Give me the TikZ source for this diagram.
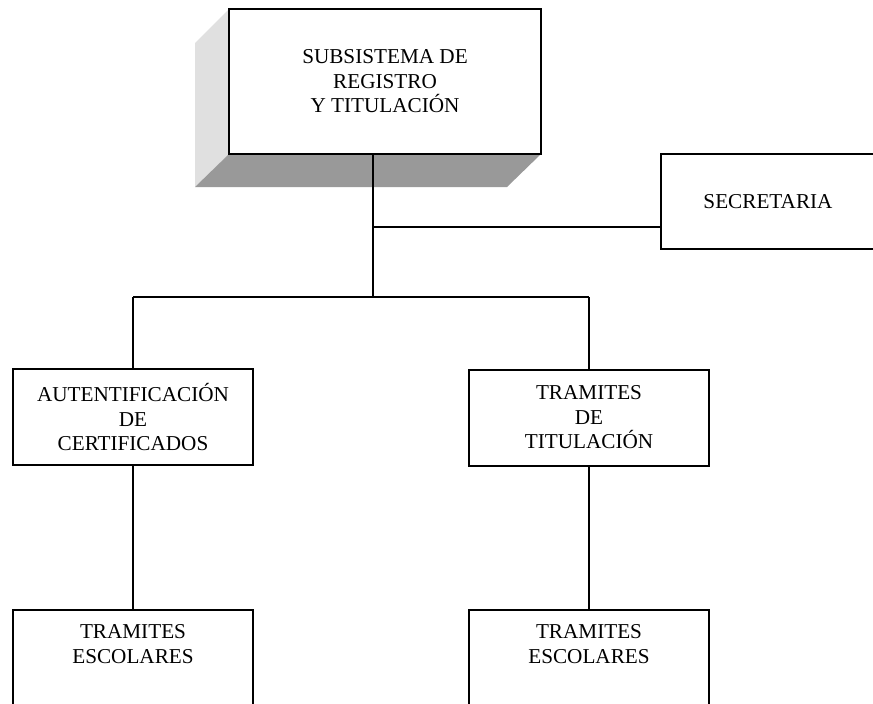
\documentclass[tikz,border=0pt]{standalone}
\usepackage{fontspec}
\setmainfont{Liberation Serif}
\begin{document}
\begin{tikzpicture}[x=1pt, y=-1pt,
  unitbox/.style={draw=black, line width=2pt, fill=white, inner sep=0pt,
    minimum width=240pt, align=center,
    font=\fontsize{21.2}{24.5}\selectfont},
  label/.style={inner sep=0pt, align=center, font=\fontsize{21.2}{24.5}\selectfont},
  link/.style={draw=black, line width=1.4pt},
  sideface/.style={fill=black!12, draw=none},
  floorface/.style={fill=black!40, draw=none}]
\useasboundingbox (0,0) rectangle (873,704);
\clip (0,0) rectangle (873,704);

% bevelled shadow of the head unit
\fill[sideface] (195,43) -- (229,9) -- (229,154) -- (195,187) -- cycle;
\fill[floorface] (195,187) -- (229,154) -- (541,154) -- (507,187) -- cycle;

% units
\node[unitbox, minimum width=312pt, minimum height=145pt] (head) at (385,81.5)
  {SUBSISTEMA DE\\REGISTRO\\Y TITULACIÓN};
\node[unitbox, minimum width=224pt, minimum height=95pt] (sec) at (773,201.5) {};
\node[label] (sect) at (768,201.5) {SECRETARIA};
\node[unitbox, minimum height=96pt] (aut) at (133,417)
  {AUTENTIFICACIÓN\\DE\\CERTIFICADOS};
\node[unitbox, minimum height=96pt] (tit) at (589,417.5)
  {TRAMITES\\DE\\TITULACIÓN};
\node[unitbox, minimum height=110pt] (esc1) at (133,665) {};
\node[unitbox, minimum height=110pt] (esc2) at (589,665) {};
\node[label] (esc1t) at (133,644) {TRAMITES\\ESCOLARES};
\node[label] (esc2t) at (589,644) {TRAMITES\\ESCOLARES};

% connectors
\coordinate (j1) at (373,227);
\coordinate (j2) at (373,297);
\draw[link] (head.south -| j1) -- (j2);
\draw[link] (j1) -- (j1 -| sec.west);
\draw[link] (aut.north |- j2) -- (tit.north |- j2);
\draw[link] (aut.north |- j2) -- (aut.north);
\draw[link] (tit.north |- j2) -- (tit.north);
\draw[link] (aut.south) -- (esc1.north);
\draw[link] (tit.south) -- (esc2.north);
\end{tikzpicture}
\end{document}
